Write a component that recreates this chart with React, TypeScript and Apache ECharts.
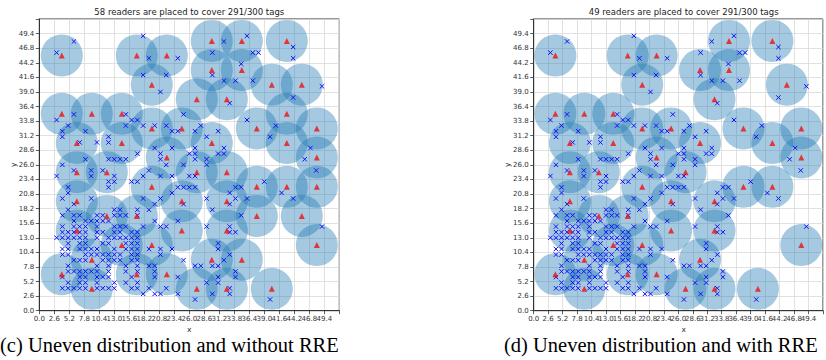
import React, { useEffect, useRef } from "react";
import * as echarts from "echarts";

// Plot range and tick spacing shared by both panels
const AXIS_MAX = 52;
const TICK_STEP = 2.6;

// Reader positions (red triangles, each with its coverage disc)
const READERS_NO_RRE: [number, number][] = [
  [3.9, 45.5], [16.9, 45.5], [22.1, 45.5], [19.5, 40.3], [29.9, 48.1], [35.1, 48.1],
  [29.9, 42.9], [35.1, 42.9], [42.9, 48.1], [27.3, 37.7], [32.5, 37.7], [40.3, 40.3],
  [45.5, 40.3], [3.9, 35.1], [9.1, 35.1], [14.3, 35.1], [19.5, 32.5], [24.7, 32.5],
  [6.5, 29.9], [14.3, 29.9], [22.1, 27.3], [29.9, 29.9], [37.7, 32.5], [42.9, 35.1],
  [48.1, 32.5], [42.9, 29.9], [48.1, 27.3], [6.5, 24.7], [11.7, 24.7], [27.3, 24.7],
  [32.5, 24.7], [19.5, 22.1], [37.7, 22.1], [42.9, 22.1], [48.1, 22.1], [6.5, 19.5],
  [24.7, 19.5], [32.5, 19.5], [11.7, 16.9], [16.9, 16.9], [37.7, 16.9], [45.5, 16.9],
  [6.5, 14.3], [24.7, 14.3], [32.5, 14.3], [14.3, 11.7], [19.5, 11.7], [48.1, 11.7],
  [9.1, 9.1], [29.9, 9.1], [35.1, 9.1], [3.9, 6.5], [16.9, 6.5], [22.1, 6.5],
  [9.1, 3.9], [27.3, 3.9], [32.5, 3.9], [40.3, 3.9],
];

const READERS_RRE: [number, number][] = [
  [3.9, 45.5], [16.9, 45.5], [22.1, 45.5], [19.5, 40.3], [35.1, 48.1], [42.9, 48.1],
  [29.9, 42.9], [35.1, 42.9], [32.5, 37.7], [45.5, 40.3], [3.9, 35.1], [9.1, 35.1],
  [14.3, 35.1], [19.5, 32.5], [24.7, 32.5], [37.7, 32.5], [48.1, 32.5], [6.5, 29.9],
  [14.3, 29.9], [29.9, 29.9], [42.9, 29.9], [22.1, 27.3], [48.1, 27.3], [6.5, 24.7],
  [11.7, 24.7], [27.3, 24.7], [19.5, 22.1], [37.7, 22.1], [42.9, 22.1], [6.5, 19.5],
  [24.7, 19.5], [32.5, 19.5], [11.7, 16.9], [16.9, 16.9], [6.5, 14.3], [24.7, 14.3],
  [32.5, 14.3], [14.3, 11.7], [19.5, 11.7], [48.1, 11.7], [9.1, 9.1], [29.9, 9.1],
  [3.9, 6.5], [16.9, 6.5], [22.1, 6.5], [9.1, 3.9], [27.3, 3.9], [32.5, 3.9], [40.3, 3.9],
];

// Tag positions, grouped by row: [y, x values]
const TAG_ROWS: [number, number[]][] = [
  [49, [18, 36]],
  [48, [6, 32]],
  [47, [44]],
  [46, [3, 30, 37, 38]],
  [45, [19, 24, 44]],
  [44, [35]],
  [42, [18, 22, 30]],
  [41, [32, 34, 37]],
  [40, [49]],
  [39, [21]],
  [38, [44]],
  [37, [33]],
  [35, [6, 15, 25]],
  [34, [3, 16, 17, 36]],
  [33, [5, 15, 18, 20, 22, 28, 41]],
  [32, [4, 8, 23, 24, 27, 31]],
  [31, [4, 12, 29, 40]],
  [30, [7, 10, 12]],
  [29, [20, 23, 27, 32, 47]],
  [28, [17, 21, 26, 27, 31, 32]],
  [27, [8, 12, 13, 14, 15, 21, 27, 29, 46]],
  [26, [4, 22, 25, 29]],
  [25, [6, 9, 11, 19, 48]],
  [24, [3, 9, 13, 18, 21, 23, 26, 27]],
  [23, [12, 13, 16, 17, 39]],
  [22, [5, 12, 24, 25, 26, 27, 34, 35]],
  [21, [5, 23, 33, 42]],
  [20, [4, 9, 18, 21, 29, 34, 36, 44]],
  [19, [6, 20, 25, 33]],
  [18, [5, 13, 14, 17, 19, 30]],
  [17, [4, 6, 7, 10, 11, 13, 14, 15, 17, 35]],
  [16, [6, 8, 9, 10, 11, 12, 20, 24]],
  [15, [4, 6, 7, 8, 10, 13, 14, 15, 18, 21, 22, 29, 33, 49]],
  [14, [4, 5, 6, 7, 8, 10, 11, 13, 14, 16, 17, 33, 34]],
  [13, [3, 4, 5, 6, 7, 8, 10, 12, 13, 14, 15, 16, 17]],
  [12, [5, 7, 8, 11, 12, 15, 16, 17, 31]],
  [11, [4, 5, 7, 8, 9, 10, 13, 15, 16, 17, 19, 21, 23, 31]],
  [10, [4, 5, 8, 9, 10, 11, 12, 13, 14, 16, 17, 21, 33]],
  [9, [6, 7, 8, 11, 12, 13, 14, 16, 17, 25, 32]],
  [8, [5, 10, 12, 15, 17, 19, 20, 27, 28, 30, 31]],
  [7, [5, 6, 7, 8, 9, 10, 12, 15, 17, 20, 34]],
  [6, [4, 7, 8, 10, 11, 12, 16, 20, 24, 31, 34]],
  [5, [5, 7, 8, 10, 13, 15, 17, 29, 31]],
  [4, [4, 5, 6, 7, 8, 10, 11, 12, 13, 16, 17, 19, 22, 33]],
  [3, [18, 20, 21, 24, 30, 33]],
  [2, [27, 40]],
];

const TAGS: [number, number][] = TAG_ROWS.flatMap(([y, xs]) =>
  xs.map((x) => [x, y] as [number, number])
);

const TITLES = [
  "58 readers are placed to cover 291/300 tags",
  "49 readers are placed to cover 291/300 tags",
];
const CAPTIONS = [
  "(c) Uneven distribution and without RRE",
  "(d) Uneven distribution and with RRE",
];

// Panel geometry (pixels)
const PANEL_LEFT = [39.3, 533.7];
const PANEL_TOP = 19;
const PANEL_W = 300;
const PANEL_H = 291.7;
const CAPTION_X = [0, 504];

const TICK_FONT = "DejaVu Sans";
const tickFmt = (v: number) => (v > 50 ? "" : v.toFixed(1));

function axisCommon(gridIndex: number) {
  return {
    type: "value" as const,
    gridIndex,
    min: 0,
    max: AXIS_MAX,
    interval: TICK_STEP,
    axisLine: { show: true, lineStyle: { color: "#333", width: 1 } },
    axisTick: { show: true, length: 3.5, lineStyle: { color: "#333", width: 0.8 } },
    axisLabel: {
      fontSize: 7,
      color: "#333",
      fontFamily: TICK_FONT,
      margin: 5,
      formatter: tickFmt,
    },
    splitLine: { show: true, lineStyle: { color: "#d9d9d9", width: 0.8 } },
  };
}

// Blue "x" marker for each tag
function tagRender(params: any, api: any) {
  const p = api.coord([api.value(0), api.value(1)]);
  const s = 2.2;
  const style = { stroke: "#1010ff", lineWidth: 1 };
  return {
    type: "group",
    children: [
      { type: "line", shape: { x1: p[0] - s, y1: p[1] - s, x2: p[0] + s, y2: p[1] + s }, style },
      { type: "line", shape: { x1: p[0] - s, y1: p[1] + s, x2: p[0] + s, y2: p[1] - s }, style },
    ],
  };
}

function panelSeries(idx: number, readers: [number, number][]) {
  return [
    {
      type: "scatter",
      xAxisIndex: idx,
      yAxisIndex: idx,
      data: readers,
      symbol: "circle",
      symbolSize: 42,
      itemStyle: { color: "rgba(31,119,180,0.5)" },
      silent: true,
      z: 2,
    },
    {
      type: "custom",
      xAxisIndex: idx,
      yAxisIndex: idx,
      data: TAGS,
      renderItem: tagRender,
      silent: true,
      z: 3,
    },
    {
      type: "scatter",
      xAxisIndex: idx,
      yAxisIndex: idx,
      data: readers,
      symbol: "triangle",
      symbolSize: 6,
      itemStyle: { color: "#ee1111" },
      silent: true,
      z: 4,
    },
  ];
}

export default function App() {
  const ref = useRef<HTMLDivElement>(null);

  useEffect(() => {
    if (!ref.current) return;
    const chart = echarts.init(ref.current, undefined, { renderer: "svg" });

    const graphics: any[] = [];
    [0, 1].forEach((i) => {
      const left = PANEL_LEFT[i];
      const cx = left + PANEL_W / 2;
      graphics.push({
        type: "text",
        x: cx,
        y: 11.7,
        style: {
          text: TITLES[i],
          font: `8.5px ${TICK_FONT}`,
          fill: "#222",
          textAlign: "center",
          textVerticalAlign: "middle",
        },
      });
      graphics.push({
        type: "text",
        x: cx,
        y: 329,
        style: {
          text: "x",
          font: `7.5px ${TICK_FONT}`,
          fill: "#333",
          textAlign: "center",
          textVerticalAlign: "middle",
        },
      });
      graphics.push({
        type: "text",
        x: left - 26,
        y: PANEL_TOP + PANEL_H / 2,
        rotation: Math.PI / 2,
        style: {
          text: "y",
          font: `7.5px ${TICK_FONT}`,
          fill: "#333",
          textAlign: "center",
          textVerticalAlign: "middle",
        },
      });
      graphics.push({
        type: "text",
        x: CAPTION_X[i],
        y: 345,
        style: {
          text: CAPTIONS[i],
          font: `20.5px "Liberation Serif"`,
          fill: "#000",
          textAlign: "left",
          textVerticalAlign: "middle",
        },
      });
    });

    chart.setOption({
      animation: false,
      backgroundColor: "#fff",
      grid: PANEL_LEFT.map((left) => ({
        left,
        top: PANEL_TOP,
        width: PANEL_W,
        height: PANEL_H,
        show: true,
        borderColor: "#333",
        borderWidth: 1,
        backgroundColor: "#fff",
      })),
      xAxis: [axisCommon(0), axisCommon(1)],
      yAxis: [axisCommon(0), axisCommon(1)],
      series: [...panelSeries(0, READERS_NO_RRE), ...panelSeries(1, READERS_RRE)],
      graphic: graphics,
    });

    return () => chart.dispose();
  }, []);

  return (
    <div
      ref={ref}
      style={{ position: "absolute", left: 0, top: 0, width: 826, height: 360, background: "#fff" }}
    />
  );
}
